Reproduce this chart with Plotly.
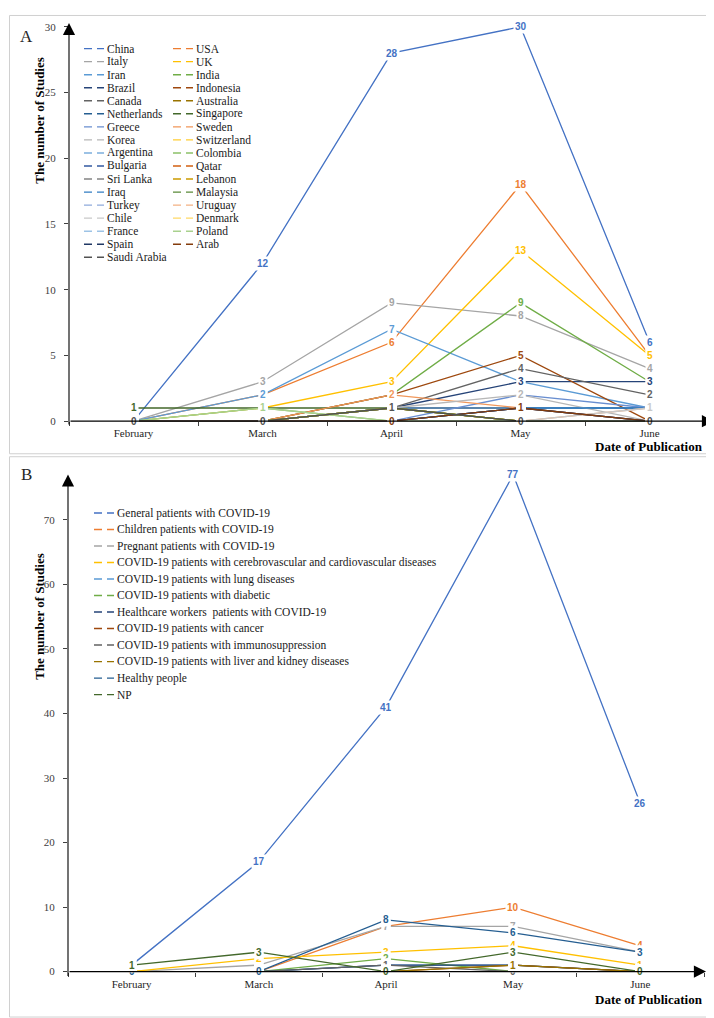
import plotly.graph_objects as go

W, H = 714, 1018

months = ["February", "March", "April", "May", "June"]

# ---------------- Panel A: countries ----------------
countries = ["China", "USA", "Italy", "UK", "Iran", "India", "Brazil", "Indonesia",
             "Canada", "Australia", "Netherlands", "Singapore", "Greece", "Sweden",
             "Korea", "Switzerland", "Argentina", "Colombia", "Bulgaria", "Qatar",
             "Sri Lanka", "Lebanon", "Iraq", "Malaysia", "Turkey", "Uruguay", "Chile",
             "Denmark", "France", "Poland", "Spain", "Arab", "Saudi Arabia"]

china = [0, 12, 28, 30, 6]
usa = [0, 2, 6, 18, 5]
italy = [0, 3, 9, 8, 4]
uk = [0, 1, 3, 13, 5]
iran = [0, 2, 7, 3, 1]
india = [0, 0, 2, 9, 3]
brazil = [0, 0, 1, 3, 3]
indonesia = [0, 0, 2, 5, 0]
canada = [0, 0, 1, 4, 2]
australia = [0, 0, 1, 0, 0]
netherlands = [0, 0, 1, 1, 1]
singapore = [1, 1, 1, 0, 0]
greece = [0, 0, 0, 2, 1]
sweden = [0, 0, 2, 1, 0]
korea = [0, 0, 1, 2, 0]
switzerland = [0, 0, 1, 0, 0]
argentina = [0, 0, 0, 0, 0]
colombia = [0, 1, 0, 0, 0]
bulgaria = [0, 0, 0, 1, 0]
qatar = [0, 0, 0, 0, 0]
sri_lanka = [0, 0, 0, 0, 0]
lebanon = [0, 0, 1, 0, 0]
iraq = [0, 0, 0, 1, 1]
malaysia = [0, 0, 1, 0, 0]
turkey = [0, 0, 0, 0, 0]
uruguay = [0, 0, 0, 0, 1]
chile = [0, 0, 0, 0, 1]
denmark = [0, 0, 0, 0, 0]
france = [0, 0, 0, 0, 0]
poland = [0, 1, 0, 0, 0]
spain = [0, 0, 0, 1, 0]
arab = [0, 0, 0, 1, 0]
saudi_arabia = [0, 0, 1, 0, 0]

country_values = [china, usa, italy, uk, iran, india, brazil, indonesia, canada,
                  australia, netherlands, singapore, greece, sweden, korea,
                  switzerland, argentina, colombia, bulgaria, qatar, sri_lanka,
                  lebanon, iraq, malaysia, turkey, uruguay, chile, denmark, france,
                  poland, spain, arab, saudi_arabia]

# ---------------- Panel B: populations ----------------
groups = ["General patients with COVID-19",
          "Children patients with COVID-19",
          "Pregnant patients with COVID-19",
          "COVID-19 patients with cerebrovascular and cardiovascular diseases",
          "COVID-19 patients with lung diseases",
          "COVID-19 patients with diabetic",
          "Healthcare workers  patients with COVID-19",
          "COVID-19 patients with cancer",
          "COVID-19 patients with immunosuppression",
          "COVID-19 patients with liver and kidney diseases",
          "Healthy people",
          "NP"]

general = [1, 17, 41, 77, 26]
children = [0, 0, 7, 10, 4]
pregnant = [0, 1, 7, 7, 3]
cardio = [0, 2, 3, 4, 1]
lung = [0, 0, 1, 1, 0]
diabetic = [0, 0, 2, 0, 0]
healthcare = [0, 0, 1, 1, 0]
cancer = [0, 0, 0, 1, 0]
immuno = [0, 0, 1, 0, 0]
liver_kidney = [0, 0, 0, 1, 0]
healthy = [0, 0, 8, 6, 3]
np_group = [1, 3, 0, 3, 0]

group_values = [general, children, pregnant, cardio, lung, diabetic, healthcare,
                cancer, immuno, liver_kidney, healthy, np_group]

# Excel default series palette
palette = ["#4472C4", "#ED7D31", "#A5A5A5", "#FFC000", "#5B9BD5", "#70AD47",
           "#264478", "#9E480E", "#636363", "#997300", "#255E91", "#43682B",
           "#698ED0", "#F1975A", "#B7B7B7", "#FFCD33", "#7CAFDD", "#8CC168",
           "#335AA1", "#D26012", "#848484", "#CC9A00", "#327DC2", "#5A8A39",
           "#8FAADC", "#F4B183", "#C9C9C9", "#FFD966", "#9DC3E6", "#A9D18E",
           "#203864", "#843C0C", "#525252", "#7F6000", "#1F4E79", "#385723"]

SERIF = "Liberation Serif"
SANS = "Liberation Sans"


def px(x):
    return x / W


def py(y):
    return 1 - y / H


# panel geometry in pixels
A = dict(x0=61, x1=706, ybot=412, ytop=13, ymax=30, dtick=5, xtip=706, ytip=9)
B = dict(x0=60, x1=696, ybot=969, ytop=463, ymax=77.5, dtick=10, xtip=698, ytip=466)

fig = go.Figure()
annotations = []
shapes = []

axis_common = dict(showgrid=False, zeroline=False, showline=False)


def add_panel(values_list, names, geo, xa, ya, legend_cols, tag, tagpos, ytitle_y, xtitle_y):
    xname = "x" if xa == "xaxis" else "x2"
    yname = "y" if ya == "yaxis" else "y2"
    for i, vals in enumerate(values_list):
        fig.add_trace(go.Scatter(
            x=months, y=vals, mode="lines",
            line=dict(color=palette[i], width=1.3),
            xaxis=xname, yaxis=yname, showlegend=False, hoverinfo="skip",
            cliponaxis=False, name=names[i]))
    # data labels (later series drawn on top)
    for i, vals in enumerate(values_list):
        for m, v in zip(months, vals):
            annotations.append(dict(
                x=m, y=v, xref=xname, yref=yname, text=str(v), showarrow=False,
                font=dict(family=SANS, size=10, color=palette[i], weight="bold"),
                bgcolor="white", borderpad=1, xanchor="center", yanchor="middle"))
    fig.update_layout({
        xa: dict(domain=[px(geo["x0"]), px(geo["x1"])], anchor=yname,
                 type="category", categoryorder="array", categoryarray=months,
                 range=[-0.5, 4.5], tickson="boundaries", ticks="outside",
                 ticklen=4, tickcolor="#404040", ticklabelstandoff=4,
                 tickfont=dict(family=SERIF, size=11, color="#262626"), **axis_common),
        ya: dict(domain=[py(geo["ybot"]), py(geo["ytop"])], anchor=xname,
                 range=[0, geo["ymax"]], dtick=geo["dtick"], ticks="outside",
                 ticklen=4, tickcolor="#404040", ticklabelstandoff=6,
                 tickfont=dict(family=SERIF, size=11, color="#404040"), **axis_common),
    })
    # axes with arrows
    annotations.append(dict(
        x=px(geo["x0"]), y=py(geo["ytip"]), xref="paper", yref="paper",
        ax=0, ay=geo["ybot"] - geo["ytip"], axref="pixel", ayref="pixel",
        text="", showarrow=True, arrowhead=2, arrowsize=2.2, arrowwidth=1.1,
        arrowcolor="black"))
    annotations.append(dict(
        x=px(geo["xtip"]), y=py(geo["ybot"]), xref="paper", yref="paper",
        ax=-(geo["xtip"] - geo["x0"]), ay=0, axref="pixel", ayref="pixel",
        text="", showarrow=True, arrowhead=2, arrowsize=2.2, arrowwidth=1.1,
        arrowcolor="black"))
    # axis titles
    annotations.append(dict(
        x=px(32), y=py(ytitle_y), xref="paper", yref="paper", text="The number of Studies",
        textangle=-90, showarrow=False, xanchor="center", yanchor="middle",
        font=dict(family=SERIF, size=13, color="black", weight="bold")))
    annotations.append(dict(
        x=px(697), y=py(xtitle_y), xref="paper", yref="paper", text="Date of Publication",
        showarrow=False, xanchor="right", yanchor="middle",
        font=dict(family=SERIF, size=13, color="black", weight="bold")))
    annotations.append(dict(
        x=px(tagpos[0]), y=py(tagpos[1]), xref="paper", yref="paper", text=tag,
        showarrow=False, xanchor="center", yanchor="middle",
        font=dict(family=SERIF, size=17, color="#262626")))
    # legend
    for col in legend_cols:
        idxs, kx, tx, y0, dy, fsize = col
        for r, i in enumerate(idxs):
            yy = y0 + r * dy
            shapes.append(dict(type="line", xref="paper", yref="paper",
                               x0=px(kx), x1=px(kx + 20), y0=py(yy), y1=py(yy),
                               line=dict(color=palette[i], width=1.4, dash="8px,5px")))
            annotations.append(dict(
                x=px(tx), y=py(yy), xref="paper", yref="paper", text=names[i],
                showarrow=False, xanchor="left", yanchor="middle",
                font=dict(family=SERIF, size=fsize, color="#1a1a1a")))


n_c = len(countries)
left_idx = list(range(0, n_c, 2))
right_idx = list(range(1, n_c, 2))
add_panel(country_values, countries, A, "xaxis", "yaxis",
          [(left_idx, 76, 97, 35, 13.2, 11.5), (right_idx, 165, 186, 35, 13.2, 11.5)],
          "A", (18, 23), 108, 438)

add_panel(group_values, groups, B, "xaxis2", "yaxis2",
          [(list(range(len(groups))), 86, 107, 505, 16.7, 11.5)],
          "B", (18, 466), 610, 997)

# panel frames
shapes.append(dict(type="rect", xref="paper", yref="paper", x0=px(1.5), x1=px(712.5),
                   y0=py(445), y1=py(1.5), line=dict(color="#D0D0D0", width=1)))
shapes.append(dict(type="rect", xref="paper", yref="paper", x0=px(1.5), x1=px(712.5),
                   y0=py(1015), y1=py(448), line=dict(color="#D0D0D0", width=1)))

fig.update_layout(
    width=W, height=H, autosize=False,
    margin=dict(l=0, r=0, t=0, b=0),
    paper_bgcolor="white", plot_bgcolor="white",
    showlegend=False,
    annotations=annotations, shapes=shapes,
)

fig.write_html("out.html")
